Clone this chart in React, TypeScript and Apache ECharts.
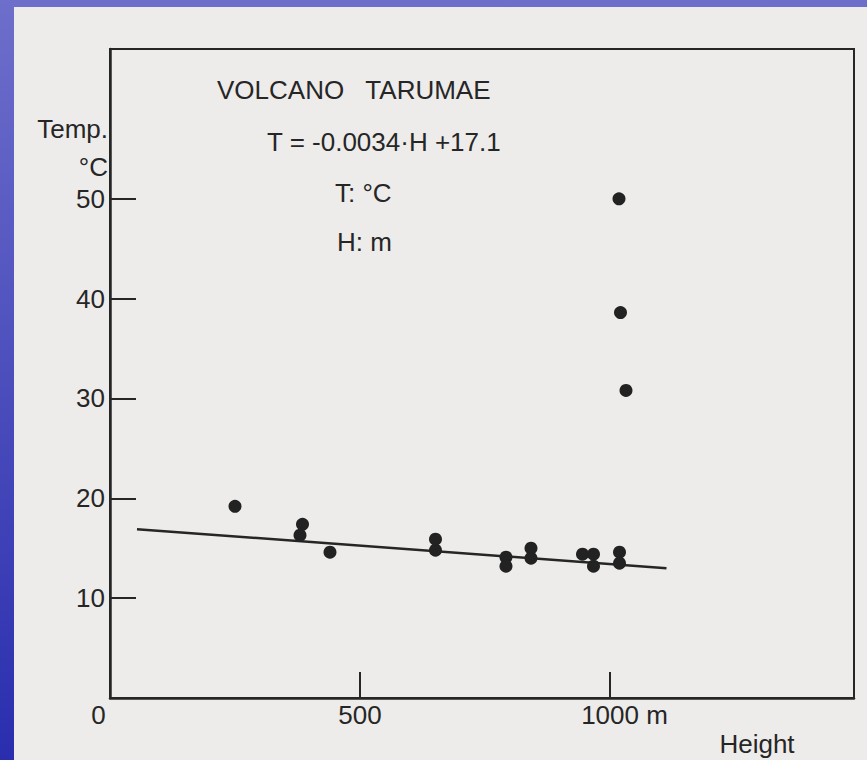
import React, { useEffect, useRef } from "react";
import * as echarts from "echarts";

// Measured points (height in m, temperature in °C)
const heights = [250, 385, 380, 440, 651, 651, 792, 792, 842, 842, 945, 967, 967, 1019, 1019, 1018, 1021, 1032];
const temps = [19.2, 17.4, 16.3, 14.6, 15.9, 14.8, 14.1, 13.2, 15.0, 14.0, 14.4, 14.4, 13.2, 14.6, 13.5, 50.0, 38.6, 30.8];

// Regression line end points
const fitHeights = [54, 1113];
const fitTemps = [16.9, 13.0];

// Axis ticks / labels
const yTickValues = [10, 20, 30, 40, 50];
const xTickValues = [500, 1000];
const xLabelValues = [0, 500, 1000];

const INK = "#262626";
const FONT = "Liberation Sans";

export default function App() {
  const ref = useRef<HTMLDivElement>(null);

  useEffect(() => {
    if (!ref.current) return;
    const chart = echarts.init(ref.current, null, { renderer: "svg" });

    const points = heights.map((h, i) => [h, temps[i]]);
    const fit = fitHeights.map((h, i) => [h, fitTemps[i]]);

    const txt = (text: string, x: number, y: number, align = "left") => ({
      type: "text",
      z: 100,
      x,
      y,
      style: {
        text,
        font: `26px "${FONT}"`,
        fill: INK,
        align,
        verticalAlign: "middle",
      },
    });

    chart.setOption({
      animation: false,
      backgroundColor: new echarts.graphic.LinearGradient(0, 0, 0, 1, [
        { offset: 0, color: "#6e6ecb" },
        { offset: 1, color: "#2a2eae" },
      ]),
      graphic: [
        {
          type: "rect",
          z: -100,
          shape: { x: 14, y: 7, width: 853, height: 753 },
          style: { fill: "#edecea" },
        },
        txt("VOLCANO   TARUMAE", 217, 90),
        txt("T = -0.0034·H +17.1", 267, 142),
        txt("T: °C", 335, 193),
        txt("H: m", 337, 242),
        txt("Height", 757, 744, "center"),
      ],
      grid: {
        left: 110,
        top: 49,
        right: 13,
        bottom: 62,
        show: true,
        backgroundColor: "transparent",
        borderColor: INK,
        borderWidth: 2,
      },
      xAxis: {
        type: "value",
        min: 0,
        max: 1488,
        splitLine: { show: false },
        axisLine: { show: true, lineStyle: { color: INK, width: 2.5 } },
        axisTick: {
          show: true,
          inside: true,
          length: 26,
          customValues: xTickValues,
          lineStyle: { color: INK, width: 2 },
        },
        axisLabel: {
          show: true,
          customValues: xLabelValues,
          margin: 4,
          color: INK,
          fontFamily: FONT,
          fontSize: 26,
          formatter: (v: number) => {
            if (v === 0) return "{v|0}{p| }";
            if (v === 1000) return "{p2| }{v|1000 m}";
            return "{v|" + v + "}";
          },
          rich: {
            v: { fontFamily: FONT, fontSize: 26, color: INK },
            p: { fontFamily: FONT, fontSize: 26, width: 23 },
            p2: { fontFamily: FONT, fontSize: 26, width: 29 },
          },
        },
      },
      yAxis: {
        type: "value",
        min: 0,
        max: 65,
        interval: 10,
        name: "Temp.\n°C",
        nameLocation: "end",
        nameGap: -100,
        nameTextStyle: {
          fontFamily: FONT,
          fontSize: 26,
          lineHeight: 38,
          color: INK,
          align: "right",
          verticalAlign: "middle",
          padding: [0, 2, 0, 0],
        },
        splitLine: { show: false },
        axisLine: { show: true, lineStyle: { color: INK, width: 2.5 } },
        axisTick: {
          show: true,
          inside: true,
          length: 26,
          customValues: yTickValues,
          lineStyle: { color: INK, width: 2 },
        },
        axisLabel: {
          show: true,
          customValues: yTickValues,
          margin: 5,
          color: INK,
          fontFamily: FONT,
          fontSize: 26,
        },
      },
      series: [
        {
          type: "line",
          data: fit,
          symbol: "none",
          lineStyle: { color: INK, width: 2.5 },
          z: 2,
        },
        {
          type: "scatter",
          data: points,
          symbol: "circle",
          symbolSize: 13,
          itemStyle: { color: "#222222", opacity: 1 },
          z: 3,
        },
      ],
    });

    return () => chart.dispose();
  }, []);

  return (
    <div
      ref={ref}
      style={{ position: "fixed", left: 0, top: 0, width: 867, height: 760 }}
    />
  );
}
